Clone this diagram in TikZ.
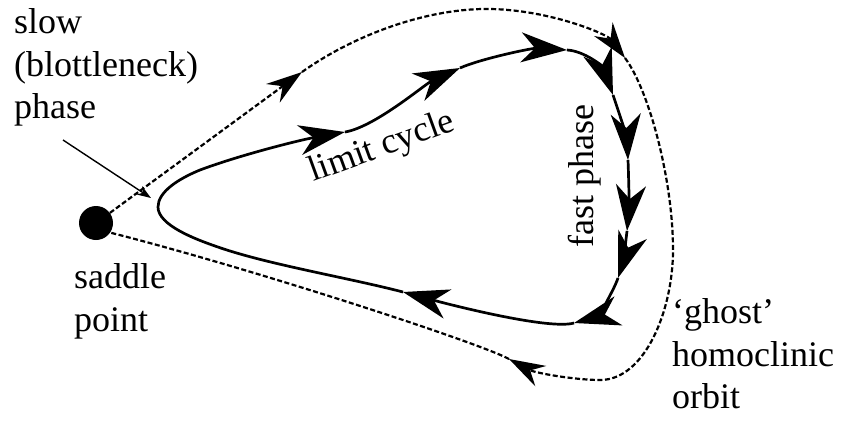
\documentclass[tikz,border=0pt]{standalone}
\usepackage{fontspec}
\setmainfont{Liberation Serif}
\usetikzlibrary{arrows.meta}
\begin{document}
\begin{tikzpicture}[x=1pt,y=-1pt,
  cyc/.style={line width=2.7pt, -{Stealth[length=46pt,width=30pt,inset=14pt]}},
  ghostpath/.style={line width=2.2pt, dash pattern=on 5pt off 2.5pt},
  ghosttip/.style={ghostpath, -{Stealth[length=36pt,width=23pt,inset=12pt]}},
  lbl/.style={font=\fontsize{36}{42.5}\selectfont, inner sep=0pt, align=left, anchor=north west},
  rlbl/.style={font=\fontsize{36}{42.5}\selectfont, inner sep=0pt, anchor=base west}]
\useasboundingbox (0,0) rectangle (858,420);

% saddle point
\node[circle, fill=black, inner sep=0pt, minimum size=34pt] (saddle) at (96,223) {};

% arrow positions on the limit cycle
\coordinate (T1) at (345,132);
\coordinate (T2) at (460,68);
\coordinate (T3) at (567,50);
\coordinate (T4) at (613,95);
\coordinate (T5) at (628,160);
\coordinate (T6) at (627,231);
\coordinate (T7) at (618,278);
\coordinate (T8) at (574,323);
\coordinate (T9) at (403,292);

% arrow positions on the ghost orbit
\coordinate (TA) at (302,72);
\coordinate (TB) at (625,58);
\coordinate (TC) at (509,359);

% limit cycle
\draw[cyc] (T9) .. controls (345,277) and (265,264) .. (215,246)
  .. controls (195,239) and (158,225) .. (158,207)
  .. controls (158,192) and (178,179) .. (200,170)
  .. controls (240,155) and (300,140) .. (T1);
\draw[cyc] (T1) .. controls (375,127) and (425,84) .. (T2);
\draw[cyc] (T2) .. controls (480,59) and (532,48) .. (T3);
\draw[cyc] (T3) .. controls (585,51) and (603,67) .. (T4);
\draw[cyc] (T4) .. controls (620,115) and (627,140) .. (T5);
\draw[cyc] (T5) .. controls (629,185) and (629,208) .. (T6);
\draw[cyc] (T6) .. controls (625,248) and (623,263) .. (T7);
\draw[cyc] (T7) .. controls (613,293) and (596,317) .. (T8);
\draw[cyc] (T8) .. controls (550,330) and (455,306) .. (T9);

% ghost homoclinic orbit
\draw[ghosttip] (saddle.36) -- (TA);
\draw[ghosttip] (TA) .. controls (357,33) and (430,8) .. (490,9)
  .. controls (550,10) and (607,34) .. (TB);
\draw[ghosttip] (TB) .. controls (649,90) and (673,180) .. (673,250)
  .. controls (673,310) and (645,380) .. (600,380)
  .. controls (575,380) and (535,373) .. (TC);
\draw[ghostpath] (TC) .. controls (480,343) and (250,268) .. (saddle.-34);

% labels
\node[lbl] (slowlbl) at (14,8.5) {slow\\(blottleneck)\\phase};
\node[lbl] (saddlelbl) at (74,263.5) {saddle\\point};
\node[lbl] (ghostlbl) at (672,298.5) {`ghost'\\homoclinic\\orbit};
\node[rlbl, rotate=20] (cyclbl) at (313,182) {limit cycle};
\node[rlbl, rotate=90] (fastlbl) at (593,248) {fast phase};

% pointer to the bottleneck
\coordinate (ptrfrom) at (63,140);
\coordinate (ptrto) at (151,198);
\draw[line width=1.4pt, -{Stealth[length=14pt,width=10pt]}] (ptrfrom) -- (ptrto);
\end{tikzpicture}
\end{document}
